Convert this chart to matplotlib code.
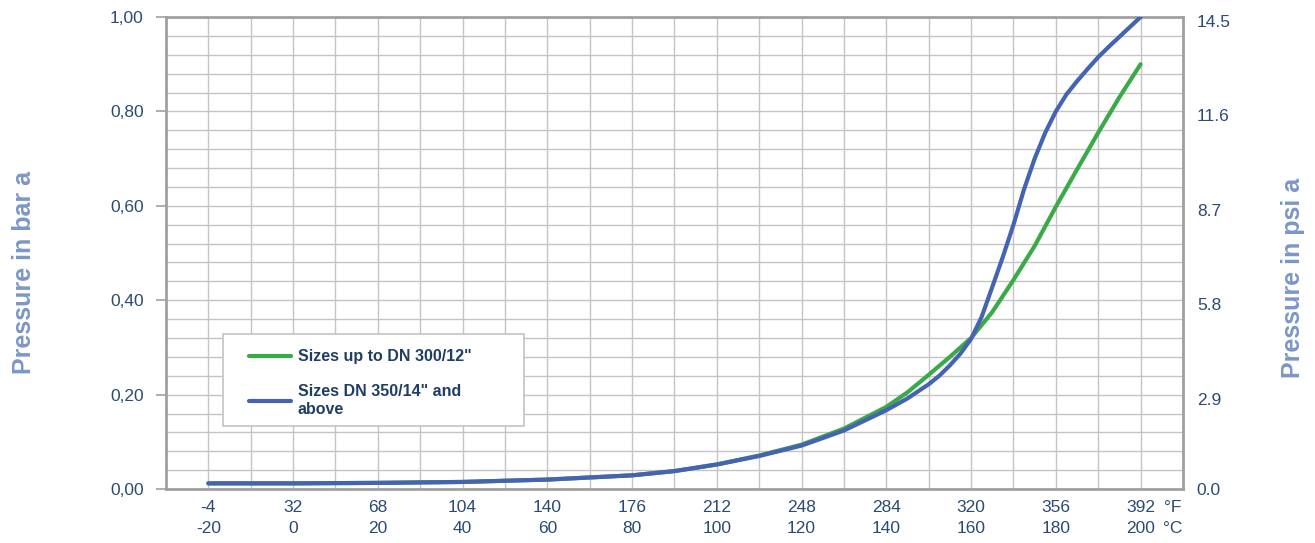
import numpy as np
import matplotlib
matplotlib.use("Agg")
import matplotlib.pyplot as plt
import matplotlib.transforms as mtransforms
from matplotlib.patches import Rectangle

plt.rcParams["font.family"] = ["Liberation Sans", "DejaVu Sans"]

# temperature in degC, pressure in bar a
temp_small = [-20, 0, 20, 40, 60, 80, 90, 100, 110, 120, 130, 140, 145, 150, 155,
              160, 165, 170, 175, 180, 185, 190, 195, 200]
bar_small = [0.012, 0.012, 0.013, 0.015, 0.020, 0.029, 0.038, 0.052, 0.071, 0.094,
             0.128, 0.174, 0.205, 0.242, 0.280, 0.320, 0.375, 0.443, 0.515, 0.598,
             0.677, 0.755, 0.830, 0.900]

temp_large = [-20, 0, 20, 40, 60, 80, 90, 100, 110, 120, 130, 140, 145, 150, 152.5,
              155, 157.5, 160, 162.5, 165, 167.5, 170, 172.5, 175, 177.5, 180, 182.5,
              185, 187.5, 190, 192.5, 195, 197.5, 200]
bar_large = [0.012, 0.012, 0.013, 0.015, 0.020, 0.029, 0.038, 0.052, 0.070, 0.092,
             0.124, 0.167, 0.192, 0.222, 0.240, 0.262, 0.287, 0.318, 0.365, 0.428,
             0.492, 0.560, 0.635, 0.700, 0.755, 0.800, 0.836, 0.864, 0.890, 0.915,
             0.937, 0.958, 0.979, 1.000]

x_ticks_c = [-20, 0, 20, 40, 60, 80, 100, 120, 140, 160, 180, 200]
x_ticks_f = ["-4", "32", "68", "104", "140", "176", "212", "248", "284", "320", "356", "392"]
y_ticks = [0.0, 0.2, 0.4, 0.6, 0.8, 1.0]
y_labels_bar = ["0,00", "0,20", "0,40", "0,60", "0,80", "1,00"]
y_labels_psi = ["0.0", "2.9", "5.8", "8.7", "11.6", "14.5"]

text_col = "#2b4a74"
axis_lbl_col = "#7b96c8"
grid_col = "#c4c4c4"
spine_col = "#a0a0a0"

fig = plt.figure(figsize=(13.15, 5.43), dpi=100)
ax = fig.add_axes([0.1262, 0.0994, 0.7734, 0.8693])

ax.plot(temp_small, bar_small, color="#3aaa48", lw=3.0, solid_capstyle="round",
        solid_joinstyle="round", label='Sizes up to DN 300/12"', zorder=3)
ax.plot(temp_large, bar_large, color="#4563b0", lw=3.0, solid_capstyle="round",
        solid_joinstyle="round", label='Sizes DN 350/14" and\nabove', zorder=4)

ax.set_xlim(-30, 210)
ax.set_ylim(0, 1.0)

ax.set_xticks(x_ticks_c)
ax.set_xticklabels([f"{f}\n{c}" for f, c in zip(x_ticks_f, x_ticks_c)],
                   fontsize=12.5, color=text_col, linespacing=1.5)
ax.set_xticks(np.arange(-20, 201, 10), minor=True)
ax.set_yticks(y_ticks)
ax.set_yticklabels(y_labels_bar, fontsize=12.5, color=text_col)
ax.set_yticks(np.arange(0, 1.001, 0.04), minor=True)

ax.tick_params(axis="x", which="both", length=0, pad=8)
ax.tick_params(axis="y", which="major", length=7, width=1.2, color=spine_col, pad=9)
ax.tick_params(axis="y", which="minor", length=0)

ax.grid(which="both", color=grid_col, lw=1.0, zorder=0)
ax.set_axisbelow(True)
for s in ax.spines.values():
    s.set_color(spine_col)
    s.set_linewidth(2.0)

ax.annotate("°F\n°C", xy=(207.5, 0), xycoords="data", xytext=(0, -8),
            textcoords="offset points", ha="center", va="top", fontsize=12.5,
            color=text_col, linespacing=1.5, annotation_clip=False)

ax2 = ax.twinx()
ax2.set_ylim(0, 1.0)
ax2.set_yticks(y_ticks)
ax2.set_yticklabels(y_labels_psi, fontsize=12.5, color=text_col)
ax2.tick_params(axis="y", length=0, pad=10)
shift = mtransforms.ScaledTranslation(0, -4 / 100, fig.dpi_scale_trans)
for lbl in ax2.get_yticklabels()[1:]:
    lbl.set_transform(lbl.get_transform() + shift)
for s in ax2.spines.values():
    s.set_visible(False)

fig.text(0.018, 0.499, "Pressure in bar a", rotation=90, ha="center", va="center",
         fontsize=18, fontweight="bold", color=axis_lbl_col)
fig.text(0.983, 0.488, "Pressure in psi a", rotation=90, ha="center", va="center",
         fontsize=18, fontweight="bold", color=axis_lbl_col)

# legend box drawn separately so it can be wider than its entries
ax.add_patch(Rectangle((0.056, 0.133), 0.296, 0.195, transform=ax.transAxes,
                       facecolor="white", edgecolor="#c4c4c4", lw=1.2, zorder=5))
leg = ax.legend(loc="upper left", bbox_to_anchor=(0.077, 0.306), frameon=False,
                handlelength=2.6, handletextpad=0.45, borderpad=0.3,
                labelspacing=1.25, borderaxespad=0,
                prop={"size": 11.5, "weight": "bold"})
for t in leg.get_texts():
    t.set_color("#1f3e66")
leg.set_zorder(6)

fig.savefig("out.png", dpi=100)
